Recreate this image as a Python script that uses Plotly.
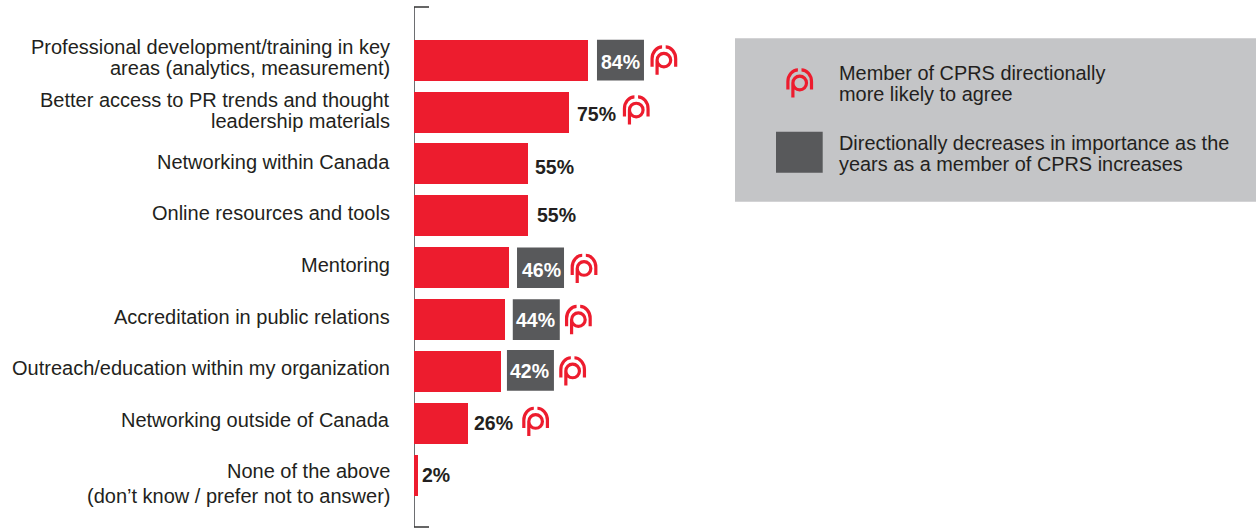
import plotly.graph_objects as go

# Survey results
label_lines = [
    ["Professional development/training in key", "areas (analytics, measurement)"],
    ["Better access to PR trends and thought", "leadership materials"],
    ["Networking within Canada"],
    ["Online resources and tools"],
    ["Mentoring"],
    ["Accreditation in public relations"],
    ["Outreach/education within my organization"],
    ["Networking outside of Canada"],
    ["None of the above", "(don\u2019t know / prefer not to answer)"],
]
values = [84, 75, 55, 55, 46, 44, 42, 26, 2]
decreasing = [True, False, False, False, True, True, True, False, False]
member_more_likely = [True, True, False, False, True, True, True, True, False]

legend_member = ["Member of CPRS directionally", "more likely to agree"]
legend_decrease = ["Directionally decreases in importance as the", "years as a member of CPRS increases"]

# Per-row placement of the text and marks beside each bar, in pixels
label_line_y = [[47, 68], [100, 121], [162], [213], [265], [317], [368], [420], [471, 495.5]]
value_dx = [33, 27, 27, 29, 32, 30, 29, 25.5, 17.5]
value_dy = [1.7, 2.1, 2.9, -0.8, 2.3, 0.3, -0.6, -0.6, -0.5]
box_gap = [9.1, 0, 0, 0, 7.8, 7.7, 6, 0, 0]
box_dy = [0, 0, 0, 0, 0, 0, -1.2, 0, 0]
logo_dx = [76, 67, 0, 0, 74.8, 73.3, 71.7, 67.8, 0]
logo_dy = [0, -2, 0, 0, 0.7, 0, -0.6, -2, 0]

RED = "#ED1C2E"
DARK = "#58595B"
PANEL = "#C4C5C7"
INK = "#231F20"
FONT = "Liberation Sans"

W, H = 1256, 529
LEFT, TOP, BOTTOM = 414, 7, 2
PLOT_W, PLOT_H = W - LEFT, H - TOP - BOTTOM
PX_PER_PCT = 2.07
ROW_PX = 51.9
MIDDLE_ROW_PX = 267.75
pos = list(range(len(values)))


def px(x):
    return (x - LEFT) / PLOT_W


def py(y):
    return 1 - (y - TOP) / PLOT_H


def to_px_path(cx, cy):
    """Logo outline in pixels around (cx, cy): two outer arcs and a lowercase p."""
    k = 0.5523
    R, r = 11.8, 6.8
    oy = 1.4
    sx = lambda v: f"{cx + v:.2f}"
    sy = lambda v: f"{cy + v:.2f}"
    left = (f"M{sx(-R)},{sy(-6.5)} L{sx(-R)},{sy(oy)} "
            f"C{sx(-R)},{sy(oy + R * k)} {sx(-R * k - 0.5)},{sy(oy + R)} {sx(-1.8)},{sy(oy + R)}")
    right = (f"M{sx(R)},{sy(-6.5)} L{sx(R)},{sy(oy)} "
             f"C{sx(R)},{sy(oy + R * k)} {sx(R * k + 0.5)},{sy(oy + R)} {sx(1.8)},{sy(oy + R)}")
    bowl = (f"M{sx(-r)},{sy(-14.5)} L{sx(-r)},{sy(0)} "
            f"C{sx(-r)},{sy(r * k)} {sx(-r * k)},{sy(r)} {sx(0)},{sy(r)} "
            f"C{sx(r * k)},{sy(r)} {sx(r)},{sy(r * k)} {sx(r)},{sy(0)} "
            f"C{sx(r)},{sy(-r * k)} {sx(r * k)},{sy(-r)} {sx(0)},{sy(-r)} "
            f"C{sx(-r * k)},{sy(-r)} {sx(-r)},{sy(-r * k)} {sx(-r)},{sy(0)}")
    return " ".join([left, right, bowl])


def logo(xanchor, yanchor, xref, yref, dx=0, dy=0):
    return dict(type="path", path=to_px_path(dx, -dy), xref=xref, yref=yref,
                xsizemode="pixel", ysizemode="pixel", xanchor=xanchor, yanchor=yanchor,
                line=dict(color=RED, width=3.2), fillcolor="rgba(0,0,0,0)", layer="above")


fig = go.Figure(go.Bar(
    x=values, y=pos, orientation="h", width=0.79,
    marker=dict(color=RED, line=dict(width=0)),
    hoverinfo="skip",
))

shapes, annotations = [], []

# Axis line, behind the bars
shapes.append(dict(type="line", xref="x", yref="paper", x0=0, x1=0, y0=0, y1=1,
                   line=dict(color="#6D6E71", width=2), layer="below"))

for i, (lines, v, dec, mem) in enumerate(zip(label_lines, values, decreasing, member_more_likely)):
    # Category labels, one annotation per line for tight leading
    for line, y in zip(lines, label_line_y[i]):
        annotations.append(dict(
            x=0, y=py(y), xref="x", yref="paper", text=line, showarrow=False,
            xanchor="right", yanchor="middle", xshift=-22,
            font=dict(family=FONT, size=20, color=INK),
        ))
    # Value label, boxed when it falls with tenure
    if dec:
        gap, d = box_gap[i], box_dy[i]
        shapes.append(dict(type="rect", xref="x", yref="y", xsizemode="pixel", ysizemode="pixel",
                           xanchor=v, yanchor=i, x0=gap, x1=gap + 47, y0=-20.3 - d, y1=20.3 - d,
                           fillcolor=DARK, line=dict(width=0), layer="above"))
    annotations.append(dict(
        x=v, y=i, xref="x", yref="y", text=f"<b>{v}%</b>", showarrow=False,
        xanchor="center", yanchor="middle", xshift=value_dx[i], yshift=-value_dy[i],
        font=dict(family=FONT, size=19.5, color="white" if dec else INK),
    ))
    if mem:
        shapes.append(logo(v, i, "x", "y", dx=logo_dx[i], dy=logo_dy[i]))

# Axis end caps
for y in (0, 1):
    shapes.append(dict(type="path", path="M0,0 L15,0", xref="x", yref="paper",
                       xsizemode="pixel", ysizemode="pixel", xanchor=0, yanchor=y,
                       line=dict(color="#333333", width=1.5), layer="above"))

# Key panel, in paper coordinates
shapes.append(dict(type="rect", xref="paper", yref="paper", x0=px(735), x1=px(1256),
                   y0=py(201.7), y1=py(38.3), fillcolor=PANEL, line=dict(width=0), layer="below"))
shapes.append(dict(type="rect", xref="paper", yref="paper", x0=px(776), x1=px(822.7),
                   y0=py(172.7), y1=py(131.7), fillcolor=DARK, line=dict(width=0), layer="above"))
shapes.append(logo(px(799.7), py(83), "paper", "paper"))
for lines, ys in ((legend_member, (72.5, 93.7)), (legend_decrease, (142.6, 164.3))):
    for line, y in zip(lines, ys):
        annotations.append(dict(
            x=px(837.3), y=py(y), xref="paper", yref="paper", text=line, showarrow=False,
            xanchor="left", yanchor="middle", align="left",
            font=dict(family=FONT, size=19.9, color=INK),
        ))

fig.update_layout(
    width=W, height=H, autosize=False,
    margin=dict(l=LEFT, r=0, t=TOP, b=BOTTOM, pad=0),
    paper_bgcolor="white", plot_bgcolor="white",
    showlegend=False, bargap=0,
    xaxis=dict(range=[0, PLOT_W / PX_PER_PCT], visible=False, fixedrange=True),
    yaxis=dict(
        range=[4 + (H - BOTTOM - MIDDLE_ROW_PX) / ROW_PX, 4 + (TOP - MIDDLE_ROW_PX) / ROW_PX],
        showline=False,
        showticklabels=False, ticks="", showgrid=False, zeroline=False, fixedrange=True,
    ),
    shapes=shapes, annotations=annotations,
    font=dict(family=FONT, color=INK),
)

fig.write_html("out.html", config=dict(displayModeBar=False))
